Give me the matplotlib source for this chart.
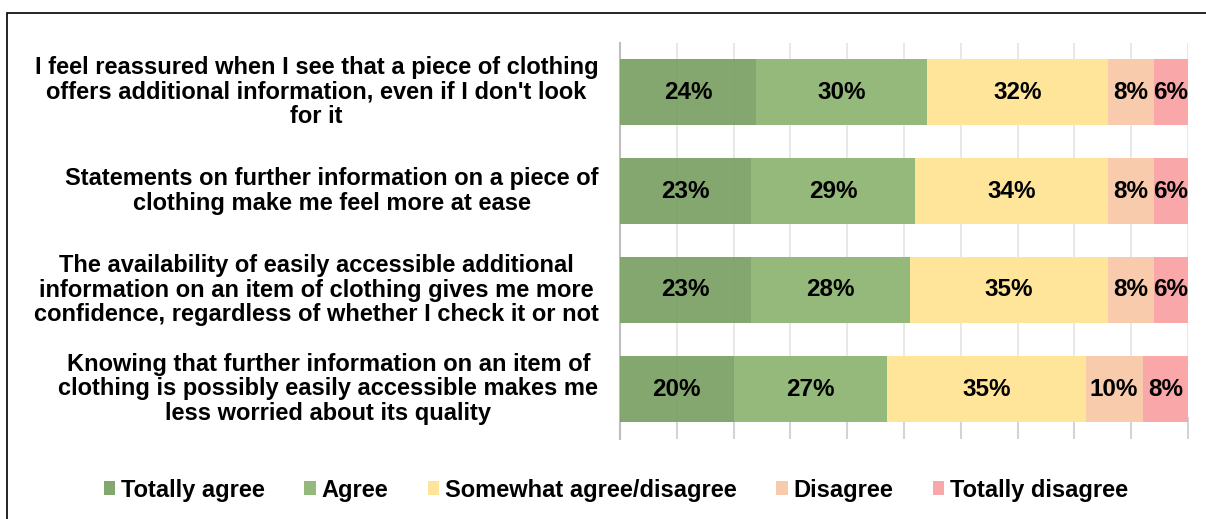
import numpy as np
import matplotlib.pyplot as plt
from matplotlib.patches import Rectangle

plt.rcParams['font.family'] = ['Liberation Sans', 'DejaVu Sans']
plt.rcParams['font.weight'] = 'bold'

statements = [
    "I feel reassured when I see that a piece of clothing\noffers additional information, even if I don't look\nfor it",
    "Statements on further information on a piece of\nclothing make me feel more at ease",
    "The availability of easily accessible additional\ninformation on an item of clothing gives me more\nconfidence, regardless of whether I check it or not",
    "Knowing that further information on an item of\nclothing is possibly easily accessible makes me\nless worried about its quality",
]
answers = ["Totally agree", "Agree", "Somewhat agree/disagree", "Disagree", "Totally disagree"]
totally_agree = [24, 23, 23, 20]
agree = [30, 29, 28, 27]
somewhat = [32, 34, 35, 35]
disagree = [8, 8, 8, 10]
totally_disagree = [6, 6, 6, 8]

colors = ["#7a9f63", "#94b97a", "#fee59a", "#f8cbad", "#f9a7a8"]
alphas = [0.92, 1, 1, 1, 1]

fig = plt.figure(figsize=(12.06, 5.19), dpi=100)
ax = fig.add_axes([620 / 1206, 1 - 438.5 / 519, 568 / 1206, 396 / 519])

y = np.arange(len(statements))
left = np.zeros(len(statements))
for name, vals, c, a in zip(answers, [totally_agree, agree, somewhat, disagree, totally_disagree], colors, alphas):
    vals = np.array(vals)
    ax.barh(y, vals, left=left, height=0.667, color=c, alpha=a, label=name, zorder=3)
    for yi, l, v in zip(y, left, vals):
        ax.text(l + v / 2, yi, f"{v}%", ha='center', va='center', fontsize=17.5,
                fontweight='bold', color='black', zorder=4)
    left += vals

ax.set_xlim(0, 100)
ax.set_ylim(3.5, -0.5)
ax.set_xticks(np.arange(0, 101, 10))
ax.set_xticklabels([])
ax.tick_params(axis='x', direction='in', length=16, width=1.5, color='#d4d4d4')
ax.set_yticks([])
ax.grid(axis='x', color='#e6e6e6', linewidth=1.3, zorder=0)
for s in ['top', 'right', 'bottom']:
    ax.spines[s].set_visible(False)
ax.spines['left'].set_color('#bfbfbf')
ax.spines['left'].set_linewidth(1.5)

for yi, s in zip(y, statements):
    ax.text(-3.8, yi, s, ha='right', va='center', multialignment='center',
            fontsize=17, fontweight='bold', linespacing=1.1, transform=ax.transData)

fig.legend(loc='center', bbox_to_anchor=(616 / 1206, 1 - 490 / 519), ncol=5, frameon=False,
           handlelength=0.5, handleheight=0.5, handletextpad=0.25,
           columnspacing=1.65, prop={'weight': 'bold', 'size': 17})

fig.patches.append(Rectangle((7 / 1206, -0.1), 1.2, 1 - 13 / 519 + 0.1, transform=fig.transFigure,
                             fill=False, edgecolor='black', linewidth=1.2))

fig.savefig("out.png", dpi=100)
